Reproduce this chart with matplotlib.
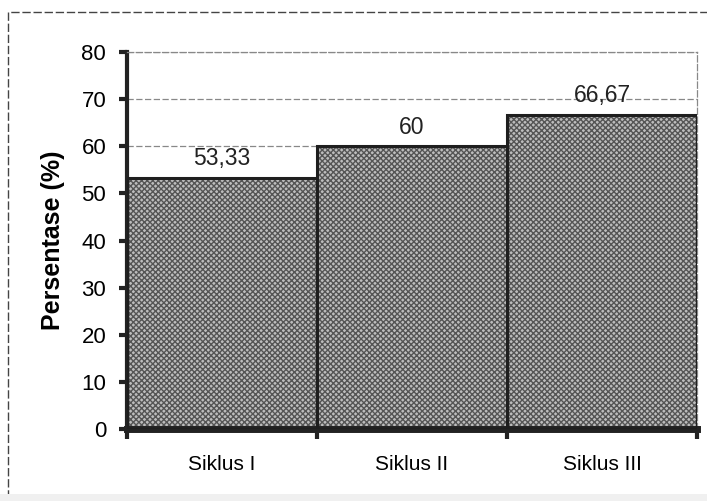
import matplotlib
matplotlib.use("Agg")
import matplotlib.pyplot as plt
from matplotlib.patches import Rectangle

categories = ["Siklus I", "Siklus II", "Siklus III"]
values = [53.33, 60, 66.67]
value_labels = ["53,33", "60", "66,67"]

plt.rcParams['font.family'] = ['Liberation Sans', 'DejaVu Sans']

fig = plt.figure(figsize=(7.07, 5.01), dpi=100)
ax = fig.add_axes([0.1796, 0.1437, 0.8063, 0.7525])

# outer frame of the chart area + faint strip at the bottom of the scan
frame = Rectangle((8 / 707, -0.02), 1.0, 0.998 - 11 / 501 + 0.02, transform=fig.transFigure,
                  fill=False, edgecolor='#444444', linewidth=1.0, linestyle=(0, (6, 2)))
fig.patches.append(frame)
strip = Rectangle((0, 0), 1, 7 / 501, transform=fig.transFigure,
                  facecolor='#f0f0f0', edgecolor='none')
fig.patches.append(strip)

x = list(range(len(categories)))
ax.bar(x, values, width=1.0, color='#bdbdbd', edgecolor='#555555', hatch='xxxxxx',
       linewidth=0, zorder=2)
ax.bar(x, values, width=1.0, fill=False, edgecolor='#1e1e1e', linewidth=2.2, zorder=3)

for xi, v, lab in zip(x, values, value_labels):
    ax.text(xi, v + 1.6, lab, ha='center', va='bottom', fontsize=16.5, color='#222222')

ax.set_xlim(-0.5, 2.5)
ax.set_ylim(0, 80)
ax.set_yticks(range(0, 81, 10))
ax.yaxis.grid(True, color='#888888', linestyle=(0, (5, 2)), linewidth=0.9)
ax.set_axisbelow(True)

ax.set_xticks([-0.5, 0.5, 1.5, 2.5])
ax.set_xticklabels([])
ax.set_xticks(x, minor=True)
ax.set_xticklabels(categories, minor=True, fontsize=15)
ax.tick_params(axis='x', which='minor', length=0, pad=19)
ax.tick_params(axis='x', which='major', direction='out', length=7, width=3, color='#222222')
ax.tick_params(axis='y', direction='out', length=6, width=3, color='#222222',
               labelsize=16, pad=9)

ax.spines['left'].set_linewidth(3)
ax.spines['left'].set_color('#222222')
ax.spines['bottom'].set_linewidth(5)
ax.spines['bottom'].set_color('#222222')
for s in ['top', 'right']:
    ax.spines[s].set_color('#888888')
    ax.spines[s].set_linestyle((0, (5, 2)))
    ax.spines[s].set_linewidth(0.9)

ax.set_ylabel("Persentase (%)", fontsize=18, fontweight='bold', labelpad=12)

fig.savefig("out.png", dpi=100)
